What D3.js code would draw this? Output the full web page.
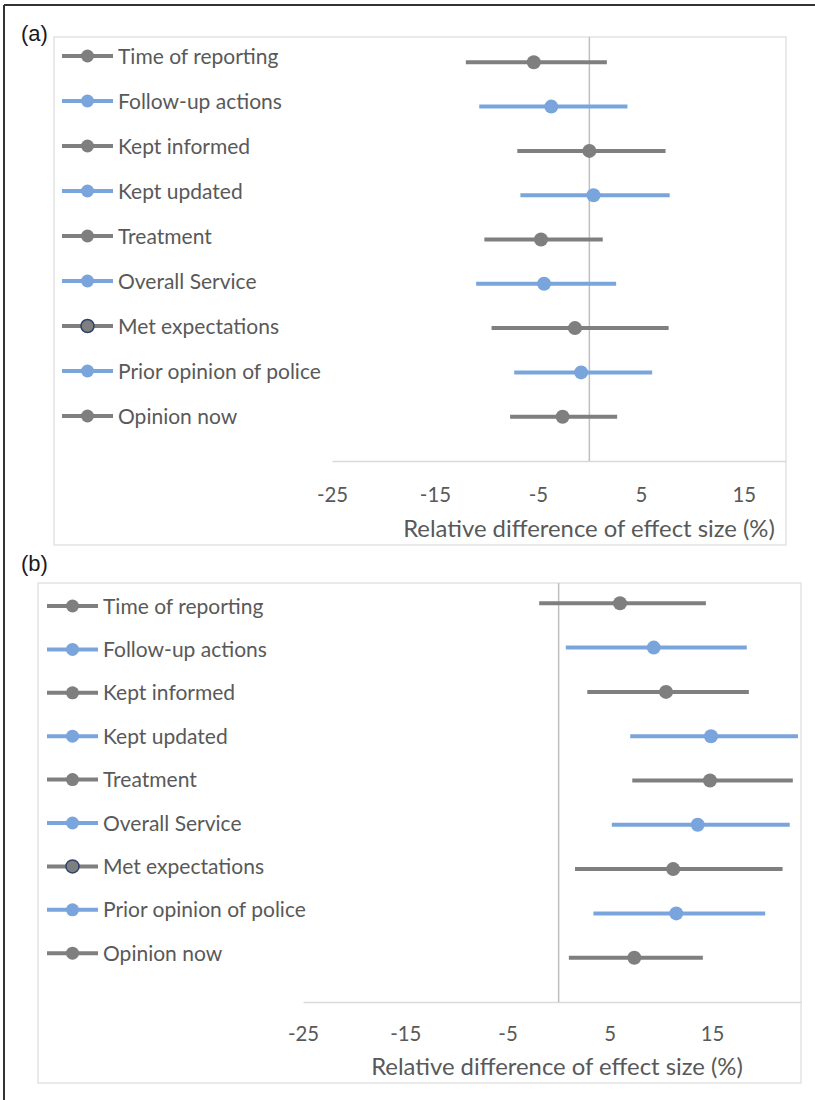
<!DOCTYPE html>
<html><head><meta charset="utf-8">
<script src="https://cdn.jsdelivr.net/npm/d3@7"></script>
<style>body{margin:0;background:#fff}svg{display:block}</style>
</head><body>
<svg id="c" width="815" height="1100"></svg>
<script>
const categories = ["Time of reporting","Follow-up actions","Kept informed","Kept updated","Treatment","Overall Service","Met expectations","Prior opinion of police","Opinion now"];
const seriesType = ["gray","blue","gray","blue","gray","blue","gray","blue","gray"];
const tickValues = [-25,-15,-5,5,15];
const axisTitle = "Relative difference of effect size (%)";

const aEstimate = [-5.4,-3.7,0.0,0.4,-4.7,-4.4,-1.4,-0.8,-2.6];
const aLower    = [-12.0,-10.7,-7.0,-6.7,-10.2,-11.0,-9.5,-7.3,-7.7];
const aUpper    = [1.7,3.7,7.4,7.8,1.3,2.6,7.7,6.1,2.7];

const bEstimate = [6.0,9.3,10.5,14.9,14.8,13.6,11.2,11.5,7.4];
const bLower    = [-1.9,0.7,2.8,7.0,7.2,5.2,1.6,3.4,1.0];
const bUpper    = [14.4,18.4,18.6,23.4,22.9,22.6,21.9,20.2,14.1];

const COL = {gray:"#7f7f7f", blue:"#7aa5dc"};
const TXT = "#595959";
const FONT = "Lato, 'Open Sans', sans-serif";

const svg = d3.select("#c");

// outer frame (top & left edges visible)
svg.append("line").attr("x1",4).attr("x2",815).attr("y1",5).attr("y2",5).attr("stroke","#333").attr("stroke-width",2);
svg.append("line").attr("x1",4).attr("x2",4).attr("y1",5).attr("y2",1100).attr("stroke","#333").attr("stroke-width",2);

function fitSize(text, target){
  const t = svg.append("text").attr("font-family",FONT).attr("font-size",20).text(text);
  const w = t.node().getComputedTextLength(); t.remove();
  return 20*target/w;
}
const legendSize = fitSize("Follow-up actions",164);
const tickSize = legendSize*0.97;
const titleSize = fitSize(axisTitle,372);

function panel(cfg){
  const g = svg.append("g");
  g.append("text").attr("x",cfg.labelX).attr("y",cfg.labelY).attr("font-family","Arial, 'Liberation Sans', sans-serif")
    .attr("font-size",22).attr("fill","#1a1a1a").attr("dy","0.36em").text(cfg.label);
  g.append("rect").attr("x",cfg.box[0]).attr("y",cfg.box[1]).attr("width",cfg.box[2]-cfg.box[0]).attr("height",cfg.box[3]-cfg.box[1])
    .attr("fill","#fff").attr("stroke","#e3e3e3").attr("stroke-width",1.5);

  const x = d3.scaleLinear().domain(cfg.xDomain).range([cfg.xRange[0],cfg.xRange[1]]);
  const y = d3.scaleLinear().domain([0,1]).range([cfg.y0,cfg.y0-cfg.step]);

  // x axis
  const ax = g.append("g").attr("transform",`translate(0,${cfg.y0})`)
    .call(d3.axisBottom(x).tickValues(tickValues).tickSize(0).tickPadding(0).tickFormat(d=>String(d)));
  ax.select(".domain").attr("stroke","#d9d9d9").attr("stroke-width",1.5);
  ax.selectAll(".tick text").attr("font-family",FONT).attr("font-size",tickSize).attr("fill",TXT)
    .attr("y",cfg.tickDy).attr("dy","0.36em");
  g.append("text").attr("x",cfg.titleX).attr("y",cfg.titleY).attr("text-anchor","middle").attr("dy","0.36em")
    .attr("font-family",FONT).attr("font-size",titleSize).attr("fill",TXT).text(axisTitle);

  // zero line
  g.append("line").attr("x1",x(0)).attr("x2",x(0)).attr("y1",cfg.box[1]).attr("y2",cfg.y0)
    .attr("stroke","#bfbfbf").attr("stroke-width",1.5);

  const rows = categories.map((c,i)=>({c, t:seriesType[i], k:categories.length-i, est:cfg.est[i], lo:cfg.lo[i], hi:cfg.hi[i]}));
  const r = g.selectAll("g.row").data(rows).enter().append("g");
  r.append("line").attr("x1",d=>x(d.lo)).attr("x2",d=>x(d.hi)).attr("y1",d=>y(d.k)).attr("y2",d=>y(d.k))
    .attr("stroke",d=>COL[d.t]).attr("stroke-width",4);
  r.append("circle").attr("cx",d=>x(d.est)).attr("cy",d=>y(d.k)).attr("r",7).attr("fill",d=>COL[d.t]);

  // legend
  const lg = g.selectAll("g.leg").data(rows).enter().append("g")
    .attr("transform",(d,i)=>`translate(${cfg.legX},${cfg.legY0+i*cfg.legStep})`);
  lg.append("line").attr("x1",0).attr("x2",51).attr("stroke",d=>COL[d.t]).attr("stroke-width",4);
  lg.append("circle").attr("cx",25.5).attr("r",6.5).attr("fill",d=>COL[d.t])
    .attr("stroke",d=>d.c==="Met expectations"?"#2f4368":"none").attr("stroke-width",1.5);
  lg.append("text").attr("x",56).attr("dy","0.36em").attr("font-family",FONT)
    .attr("font-size",legendSize).attr("fill",TXT).text(d=>d.c);
}

panel({label:"(a)", labelX:21, labelY:33, box:[54,37,786,545],
  xDomain:[-25,19.1], xRange:[332,786], y0:461, step:44.3, tickDy:34, titleX:589, titleY:528,
  est:aEstimate, lo:aLower, hi:aUpper, legX:62, legY0:56, legStep:45.0});

panel({label:"(b)", labelX:21, labelY:563, box:[38,583,801,1083],
  xDomain:[-25,23.7], xRange:[303,801], y0:1002, step:44.3, tickDy:32, titleX:557, titleY:1066,
  est:bEstimate, lo:bLower, hi:bUpper, legX:47, legY0:606, legStep:43.4});
</script>
</body></html>
